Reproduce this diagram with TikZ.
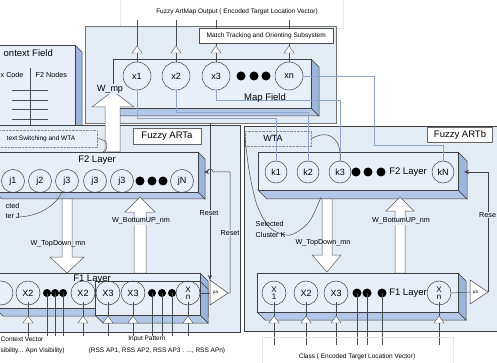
\documentclass[tikz,border=0pt]{standalone}
\usepackage{fontspec}
\setmainfont{Liberation Sans}
\usetikzlibrary{arrows.meta,calc}
\definecolor{panelcol}{HTML}{E3EBF5}
\definecolor{frontcol}{HTML}{E9EFF8}
\definecolor{sidecol}{HTML}{9CB5DD}
\definecolor{botcol}{HTML}{B3C7E8}
\definecolor{edgecol}{HTML}{3F3F3F}
\definecolor{linkcol}{HTML}{8CA5C8}
\newcommand{\boxthreed}[6]{%
  \filldraw[draw=edgecol, fill=botcol, line width=0.5pt] (#2,#5) -- (#4,#5) -- ({#4+#6},{#5+#6}) -- ({#2+#6},{#5+#6}) -- cycle;
  \filldraw[draw=edgecol, fill=sidecol, line width=0.5pt] (#4,#3) -- ({#4+#6},{#3+#6}) -- ({#4+#6},{#5+#6}) -- (#4,#5) -- cycle;
  \node[draw=edgecol, fill=frontcol, line width=0.5pt, inner sep=0pt, anchor=north west, minimum width={(#4)-(#2)}, minimum height={(#5)-(#3)}] (#1) at (#2,#3) {};
}
\newcommand{\uptri}[3]{%
  \filldraw[draw=black!70, fill=white, line width=0.4pt] (#2,#3) -- ({#2+5},{#3+7}) -- ({#2-5},{#3+7}) -- cycle;
  \coordinate (#1t) at (#2,#3);
  \coordinate (#1b) at (#2,{#3+7});
}
\tikzset{
  txtxs/.style={font=\fontsize{6.5}{7}\selectfont, inner sep=0.5pt},
  txts/.style={font=\fontsize{7.2}{8}\selectfont, inner sep=0.5pt},
  txtm/.style={font=\fontsize{9.5}{10}\selectfont, inner sep=0.5pt},
  circ/.style={circle, draw=black!75, line width=0.5pt, inner sep=0pt, minimum size=#1, font=\fontsize{9}{9}\selectfont},
  circx/.style={circ=#1, align=center, font=\fontsize{8}{7}\selectfont},
  blackdot/.style={circle, fill=black, inner sep=0pt, minimum size=#1},
  blockarrow/.style={draw=black!65, fill=white, line width=0.5pt},
  wire/.style={draw=black!70, line width=0.5pt},
  link/.style={draw=linkcol, line width=0.6pt},
  panel/.style={draw=edgecol, fill=panelcol, line width=0.7pt, inner sep=0pt, anchor=north west},
  titlebox/.style={draw=black!60, fill=white, inner sep=0pt, font=\fontsize{9.5}{10}\selectfont},
  dotbox/.style={draw=black!45, densely dotted, inner sep=0pt, anchor=north west},
  amp/.style={draw=black!75, fill=white, line width=0.5pt},
  arr/.style={-{Stealth[length=5pt,width=4pt]}, draw=black!75, line width=0.5pt}
}
\begin{document}
\begin{tikzpicture}[x=1pt,y=-1pt]
\useasboundingbox (0,0) rectangle (497,363);
\fill[white] (0,0) rectangle (497,363);

% ---------- output text ----------
\draw[black!10, fill=white] (120,-2) rectangle (343,28);
\node[txtxs] (outtxt) at (237,12) {Fuzzy ArtMap Output ( Encoded Target Location Vector)};

% ---------- context field ----------
\filldraw[draw=edgecol, fill=sidecol, line width=0.5pt] (75,45) -- (82,52) -- (82,130) -- (75,130) -- cycle;
\node[draw=edgecol, fill=frontcol, line width=0.5pt, inner sep=0pt, anchor=north west, minimum width=80, minimum height=85] (ctx) at (-5,45) {};
\node[txtm, anchor=west] (ctxtitle) at (3,53) {ontext Field};
\node[txts, anchor=west] (ctxcode) at (0,75) {x Code};
\node[txts, anchor=west] (ctxnodes) at (35,75) {F2 Nodes};
\coordinate (cv0) at (30,68); \coordinate (cv1) at (30,125);
\draw[wire] (cv0) -- (cv1);
\foreach \yy/\nm in {90/h1,100/h2,109/h3,119/h4}{
  \coordinate (\nm a) at (12,\yy); \coordinate (\nm b) at (48,\yy);
  \draw[wire] (\nm a) -- (\nm b);
}

% ---------- map field outer ----------
\node[draw=black!55, fill=panelcol, inner sep=0pt, anchor=north west, minimum width=251, minimum height=97, line width=0.6pt] (mapouter) at (85,26) {};
\node[draw=black!70, fill=white, inner sep=0pt, anchor=north west, minimum width=134, minimum height=15] (match) at (199,28) {};
\node[txtxs] (matchtxt) at (match.center) {Match Tracking and Orienting Subsystem};

% ---------- panels ----------
\node[panel, minimum width=245, minimum height=207] (arta) at (-5,125) {};
\node[panel, minimum width=258, minimum height=205] (artb) at (244,126) {};

% ---------- map field 3D box ----------
\boxthreed{mapf}{113}{59}{311}{108}{8}
\node[circ=28] (m1) at (137,76) {x1};
\node[circ=28] (m2) at (176,76) {x2};
\node[circ=28] (m3) at (216,76) {x3};
\node[circ=28] (mn) at (289,76) {xn};
\node[blackdot=9] (md1) at (241,76) {};
\node[blackdot=9] (md2) at (254,76) {};
\node[blackdot=9] (md3) at (266,76) {};
\uptri{mt1}{137}{46}
\uptri{mt2}{176}{46}
\uptri{mt3}{216}{46}
\uptri{mtn}{289}{46}
\coordinate (o1) at (137,20); \coordinate (o2) at (176,20);
\coordinate (o3) at (216,20); \coordinate (on) at (289,20);
\draw[wire] (o1) -- (mt1t); \draw[wire] (mt1b) -- (m1.north);
\draw[wire] (o2) -- (mt2t); \draw[wire] (mt2b) -- (m2.north);
\draw[wire] (o3) -- (o3 |- match.north); \draw[wire] (o3 |- match.south) -- (mt3t); \draw[wire] (mt3b) -- (m3.north);
\draw[wire] (on) -- (on |- match.north); \draw[wire] (on |- match.south) -- (mtnt); \draw[wire] (mtnb) -- (mn.north);

% ---------- ARTb F2 ----------
\boxthreed{fb2}{258}{152}{458}{190}{9}
\node[circ=22] (b1) at (276,172) {k1};
\node[circ=22] (b2) at (308,172) {k2};
\node[circ=22] (b3) at (340,172) {k3};
\node[circ=22] (bn) at (443,172) {kN};
\node[blackdot=9] (bd1) at (356,172) {};
\node[blackdot=9] (bd2) at (368,172) {};
\node[blackdot=9] (bd3) at (381,172) {};
\node[txtm] (fb2lbl) at (408,172) {F2 Layer};

% ---------- links map field -> ARTb ----------
\draw[link] (m1.south) -- (137,118) -- (276,118) -- (b1.north);
\draw[link] (m2.south) -- (176,112) -- (308,112) -- (b2.north);
\draw[link] (m3.south) -- (216,100) -- (340,100) -- (b3.north);
\draw[link] (mn.east) -- (374,76) -- (374,145) -- (443,145) -- (bn.north);
\node[txtm] (maplbl) at (265,98) {Map Field};

% ---------- ARTb WTA ----------
\node[dotbox, minimum width=66, minimum height=15] (wta) at (245,131) {};
\node[font=\fontsize{9}{9}\selectfont, inner sep=0pt] (wtatxt) at (273,138) {WTA};
\draw[wire] (wta.east) .. controls (330,128) and (342,140) .. (b3.north);
\node[titlebox, minimum width=65, minimum height=15] (artblbl) at (460,135) {Fuzzy ARTb};

% selected cluster K
\draw[wire] plot[smooth] coordinates {(244,128) (249,170) (257,205) (270,228) (290,235) (309,222) (321,197)};
\node[txts, anchor=west] (selk1) at (255,224) {Selected};
\node[txts, anchor=west] (selk2) at (255,235) {Cluster K};

% ARTb top-down / bottom-up arrows
\filldraw[blockarrow] (322,199) -- (332,199) -- (332,255) -- (341,255) -- (327,272) -- (312,255) -- (322,255) -- cycle;
\node[txts] (tdb) at (323,243) {W\_TopDown\_mn};
\filldraw[blockarrow] (395,273) -- (395,211) -- (386,211) -- (400,197) -- (414,211) -- (405,211) -- (405,273) -- cycle;
\node[txts, fill=panelcol] (bub) at (401,221) {W\_BottumUP\_nm};

% ---------- ARTb F1 ----------
\boxthreed{fb1}{257}{273}{458}{312}{8}
\node[circx=24] (c1) at (274,293) {X\\1};
\node[circ=24] (c2) at (306,293) {X2};
\node[circ=24] (c3) at (336,293) {X3};
\node[circx=24] (cn) at (439,293) {X\\n};
\node[blackdot=9] (cd1) at (357,293) {};
\node[blackdot=9] (cd2) at (367,293) {};
\node[blackdot=9] (cd3) at (382,293) {};
\node[txtm] (fb1lbl) at (408,293) {F1 Layer};
\foreach \xx/\nm in {274/c1,306/c2,336/c3,439/cn}{
  \uptri{\nm tr}{\xx}{316}
  \coordinate (\nm in) at (\xx,345);
  \draw[wire] (\nm in) -- (\nm trb);
  \draw[wire] (\nm trt) -- ($(\nm.south)!0.3!(\nm.center)$);
}
\foreach \nm in {cd1,cd2,cd3}{
  \draw[wire] (\nm.center) -- (\nm.center |- c1in);
}
% pb
\coordinate (pbtop) at (470,280); \coordinate (pbl) at (470,292); \coordinate (pbt) at (488,292);
\filldraw[amp] (pbtop) -- (pbt) -- (470,304) -- cycle;
\node[font=\fontsize{4.5}{5}\selectfont, inner sep=0pt] (pblbl) at (475.5,292) {ρb};
\draw[wire] (cn.east) -- (pbl);
\coordinate (rbb) at (488,172); \coordinate (rbe) at (464,172);
\draw[arr] (pbt) -- (rbb) -- (rbe);
\node[txts, anchor=west, fill=panelcol] (rstb) at (478.5,215) {Rese};
\draw[black!10] (262,337) rectangle (453,364);
\node[txtxs] (classtxt) at (357,357) {Class ( Encoded Target Location Vector)};

% ---------- ARTa ----------
\node[titlebox, minimum width=68, minimum height=16] (artalbl) at (167,136) {Fuzzy ARTa};
\node[dotbox, fill=frontcol, minimum width=102, minimum height=17] (csw) at (-5,130) {};
\node[txtxs, anchor=west] (cswtxt) at (6,138.5) {text Switching and WTA};

% W_mp arrow
\filldraw[blockarrow] (105,152) -- (105,107) -- (92,107) -- (113,91) -- (134,107) -- (120,107) -- (120,152) -- cycle;
\node[font=\fontsize{9}{9}\selectfont, inner sep=0.5pt, fill=panelcol] (wmp) at (110,89) {W\_mp};

% F2 ARTa
\boxthreed{fa2}{-5}{152}{198}{192}{7}
\coordinate (fa2top) at (103,152);
\draw[wire] (csw.east) .. controls (108,139) and (110,148) .. (fa2top);
\node[txtm] (fa2lbl) at (97,160) {F2 Layer};
\node[circ=23] (a1) at (13,181) {j1};
\node[circ=23] (a2) at (40,181) {j2};
\node[circ=23] (a3) at (67,181) {j3};
\node[circ=23] (a4) at (95,181) {j3};
\node[circ=23] (a5) at (122,181) {j3};
\node[circ=23] (an) at (182,181) {jN};
\node[blackdot=9] (ad1) at (140,181) {};
\node[blackdot=9] (ad2) at (152,181) {};
\node[blackdot=9] (ad3) at (163,181) {};

% selected cluster J
\node[txts, anchor=west] (selj1) at (5,206) {cted};
\node[txts, anchor=west] (selj2) at (5,216) {ter J};
\coordinate (sj0) at (19,217); \coordinate (sj1) at (62,192);
\draw[wire] (sj0) .. controls (40,216) and (56,205) .. (sj1);

% ARTa arrows
\filldraw[blockarrow] (62,199) -- (72,199) -- (72,257) -- (84,257) -- (67,273) -- (50,257) -- (62,257) -- cycle;
\node[txts] (tda) at (58,244) {W\_TopDown\_mn};
\filldraw[blockarrow] (134,273) -- (134,212) -- (125,212) -- (140,197) -- (155,212) -- (146,212) -- (146,273) -- cycle;
\node[txts, fill=panelcol] (bua) at (141,221) {W\_BottumUP\_nm};

% F1 ARTa
\boxthreed{fa1}{-5}{273}{200}{308}{8}
\boxthreed{fa1b}{95}{281}{200}{315}{8}
\node[txtm] (fa1lbl) at (92,279) {F1 Layer};
\node[circ=24] (e0) at (1,293) {};
\node[circ=24] (e1) at (28,293) {X2};
\node[circ=24] (e2) at (83,293) {X2};
\node[circ=24] (e3) at (108,293) {X3};
\node[circ=24] (e4) at (133,293) {X3};
\node[circx=24] (en) at (188,293) {X\\n};
\node[blackdot=8] (ed1) at (47,293) {};
\node[blackdot=8] (ed2) at (55,293) {};
\node[blackdot=8] (ed3) at (63,293) {};
\node[blackdot=8] (ed4) at (152,293) {};
\node[blackdot=8] (ed5) at (162,293) {};
\node[blackdot=8] (ed6) at (172,293) {};
\foreach \xx/\nm in {28/e1,83/e2,108/e3,133/e4,188/en}{
  \uptri{\nm tr}{\xx}{316}
  \coordinate (\nm in) at (\xx,336);
  \draw[wire] (\nm in) -- (\nm trb);
  \draw[wire] (\nm trt) -- ($(\nm.south)!0.3!(\nm.center)$);
}
\foreach \nm in {ed1,ed2,ed3,ed4,ed5,ed6}{
  \draw[wire] (\nm.center) -- (\nm.center |- e1in);
}
% pa
\coordinate (patop) at (210,280); \coordinate (pal) at (210,293); \coordinate (pat) at (228,293);
\filldraw[amp] (patop) -- (pat) -- (210,305) -- cycle;
\node[font=\fontsize{4.5}{5}\selectfont, inner sep=0pt] (palbl) at (215.5,293) {ρa};
\draw[wire] (en.east) -- (pal);
\coordinate (rsa0) at (210,123);
\draw[arr] (rsa0) -- (patop);
\coordinate (rab) at (230,293); \coordinate (rac) at (230,172); \coordinate (rae) at (204,172);
\draw[arr] (pat) -- (rab) -- (rac) -- (213,172) arc[start angle=0, end angle=-180, radius=3] -- (rae);
\node[txts, fill=panelcol] (rsta1) at (209,213) {Reset};
\node[txts, fill=panelcol] (rsta2) at (230,233) {Reset};

% bottom texts ARTa
\node[txtxs, anchor=west] (cvtxt) at (0,339) {Context Vector};
\node[txtxs] (iptxt) at (147,339) {Input Pattern};
\node[txtxs, anchor=west] (vistxt) at (0,351) {sibility... Apn Visibility)};
\node[txtxs, anchor=west] (rsstxt) at (88,351) {(RSS AP1, RSS AP2, RSS AP3 . ..., RSS APn)};
\end{tikzpicture}
\end{document}
